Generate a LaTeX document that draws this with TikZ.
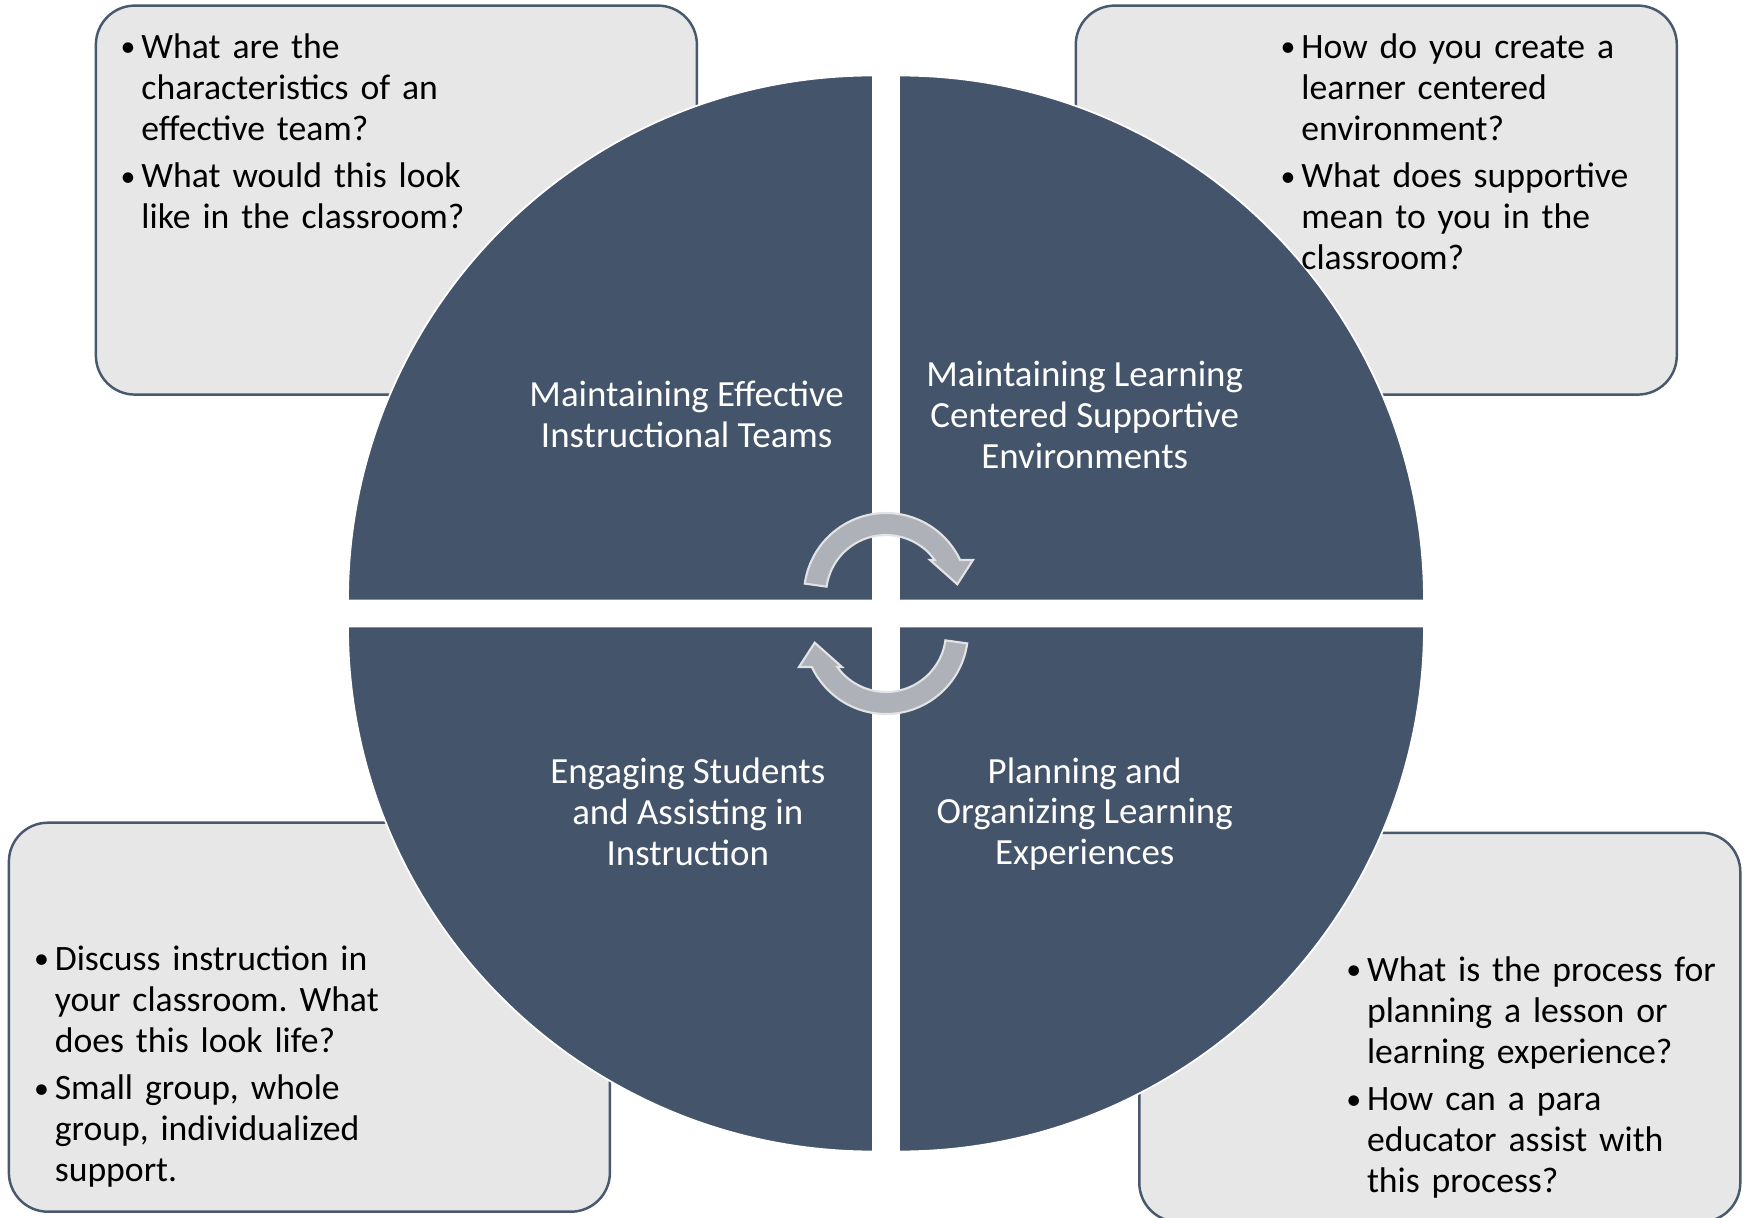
\documentclass[tikz,border=0pt]{standalone}
\usepackage{fontspec}
\setmainfont{Carlito}
\newcommand{\qbul}{\hangindent=5.9pt\hangafter=1\noindent\makebox[5.9pt][l]{\raisebox{0.5pt}{\fontsize{8.5pt}{8.5pt}\selectfont\textbullet}}}
\begin{document}
\begin{tikzpicture}[
    qbox/.style={shape=rectangle,draw=boxline,fill=boxgray,line width=0.7pt,rounded corners=0.39cm},
    quad/.style={fill=quadblue,draw=white,line width=0.5pt},
    cyclearrow/.style={fill=arrowgray,draw=arrowedge,line width=0.6pt},
    qtext/.style={anchor=base west,inner sep=0pt,text width=5.8cm,font=\fontsize{10.15pt}{11.6pt}\selectfont\frenchspacing},
    quadlabel/.style={align=center,text=white,inner sep=0pt,font=\fontsize{10.5pt}{11.6pt}\selectfont}]
    \definecolor{quadblue}{RGB}{68,84,106}
    \definecolor{boxgray}{RGB}{231,231,231}
    \definecolor{boxline}{RGB}{72,88,110}
    \definecolor{arrowgray}{RGB}{174,177,183}
    \definecolor{arrowedge}{RGB}{226,227,229}
    \useasboundingbox (0,0) rectangle (17.48,12.17);
    % question boxes
    \node[qbox,minimum width=6.01cm,minimum height=3.89cm] (tlbox) at (3.964,10.169) {};
    \node[qbox,minimum width=6.01cm,minimum height=3.89cm] (trbox) at (13.763,10.169) {};
    \node[qbox,minimum width=6.01cm,minimum height=3.89cm] (blbox) at (3.094,1.998) {};
    \node[qbox,minimum width=6.01cm,minimum height=3.89cm] (brbox) at (14.398,1.897) {};
    % four quarters of the circle
    \draw[quad] (8.73,6.165) -- ++(-5.25,0) arc[start angle=180,end angle=90,radius=5.25] -- cycle;
    \draw[quad] (8.99,6.165) -- ++(0,5.25) arc[start angle=90,end angle=0,radius=5.25] -- cycle;
    \draw[quad] (8.73,5.905) -- ++(-5.25,0) arc[start angle=180,end angle=270,radius=5.25] -- cycle;
    \draw[quad] (8.99,5.905) -- ++(5.25,0) arc[start angle=0,end angle=-90,radius=5.25] -- cycle;
    % cycle arrows
    \foreach \ang/\cy in {0/6.22,180/5.85} {
        \begin{scope}[shift={(8.86,\cy)},rotate=\ang]
            \draw[cyclearrow] (172:0.82) arc[start angle=172,end angle=25.3,radius=0.82]
                -- (0.87,0.35) -- (0.713,0.107) -- (0.44,0.35) -- (35.7:0.60)
                arc[start angle=35.7,end angle=172,radius=0.60] -- cycle;
        \end{scope}
    }
    % quarter labels
    \node[quadlabel] (teams) at (6.867,8.023) {Maintaining Effective\\Instructional Teams};
    \node[quadlabel] (environ) at (10.847,8.023) {Maintaining Learning\\Centered Supportive\\Environments};
    \node[quadlabel] (engage) at (6.878,4.054) {Engaging Students\\and Assisting in\\Instruction};
    \node[quadlabel] (planning) at (10.847,4.03) {Planning and\\Organizing Learning\\Experiences};
    % box texts
    \node[qtext] (tlq) at (1.20,11.585) {\qbul What are the\newline characteristics of an\newline effective team?\par\vspace{2pt}\qbul What would this look\newline like in the classroom?\par};
    \node[qtext] (trq) at (12.80,11.585) {\qbul How do you create a\newline learner centered\newline environment?\par\vspace{2pt}\qbul What does supportive\newline mean to you in the\newline classroom?\par};
    \node[qtext] (blq) at (0.334,2.465) {\qbul Discuss instruction in\newline your classroom. What\newline does this look life?\par\vspace{2pt}\qbul Small group, whole\newline group, individualized\newline support.\par};
    \node[qtext] (brq) at (13.456,2.355) {\qbul What is the process for\newline planning a lesson or\newline learning experience?\par\vspace{2pt}\qbul How can a para\newline educator assist with\newline this process?\par};
\end{tikzpicture}
\end{document}
